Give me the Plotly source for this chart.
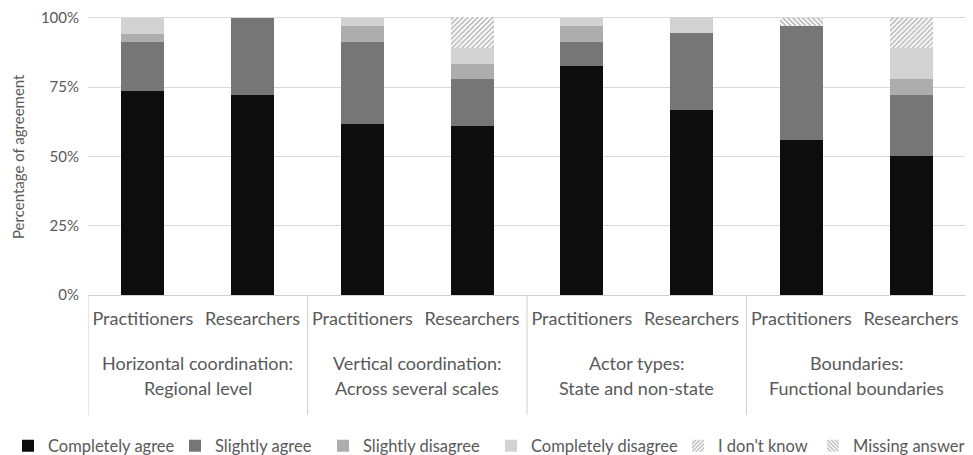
import plotly.graph_objects as go

groups = [
    "Horizontal coordination:<br>Regional level",
    "Vertical coordination:<br>Across several scales",
    "Actor types:<br>State and non-state",
    "Boundaries:<br>Functional boundaries",
]
respondents = ["Practitioners", "Researchers"]

completely_agree = [73.5, 72.2, 61.8, 61.1, 82.4, 66.7, 55.9, 50.0]
slightly_agree = [17.6, 27.8, 29.4, 16.7, 8.8, 27.8, 41.2, 22.2]
slightly_disagree = [2.9, 0, 5.9, 5.6, 5.9, 0, 0, 5.6]
completely_disagree = [5.9, 0, 2.9, 5.6, 2.9, 5.6, 0, 11.1]
dont_know = [0, 0, 0, 11.1, 0, 0, 0, 11.1]
missing_answer = [0, 0, 0, 0, 0, 0, 2.9, 0]

tick_vals = [0, 25, 50, 75, 100]
tick_text = ["0%", "25%", "50%", "75%", "100%"]

# unique category ids for each bar, labelled by respondent type
cats = [f"{g.split('<br>')[0]} {r}" for g in groups for r in respondents]
cat_labels = [r for _ in groups for r in respondents]

series = [
    ("Completely agree", completely_agree, "#0d0d0d", None, None),
    ("Slightly agree", slightly_agree, "#767676", None, None),
    ("Slightly disagree", slightly_disagree, "#adadad", None, None),
    ("Completely disagree", completely_disagree, "#d2d2d2", None, None),
    ("I don't know", dont_know, "white", "/", "#6e6e6e"),
    ("Missing answer", missing_answer, "white", "\\", "#6e6e6e"),
]

# legend text start positions (page pixels) for each entry
legend_text_x = [48, 215, 363, 531, 718, 853]

TXT = "#595959"
FONT = "Lato"

# the page body adds an 8 px offset; work in figure pixels
OFF = 8
W, HT = 973 - OFF, 455 - OFF
Y_MAX = 100.6
TOP100, B, L, R = 18 - OFF, 295 - OFF, 88 - OFF, 966 - OFF
T = round(B - (B - TOP100) * Y_MAX / 100)
H = B - T


def py(p):
    return (B - (p - OFF)) / H


def px(p):
    return ((p - OFF) - L) / (R - L)


fig = go.Figure()
for i, (name, vals, color, shape, fg) in enumerate(series):
    marker = dict(color=color, line=dict(width=0))
    if shape:
        marker["pattern"] = dict(shape=shape, fgcolor=fg, bgcolor="white", size=3.5, solidity=0.45)
    fig.add_trace(go.Bar(name=name, x=cats, y=vals, marker=marker,
                         legend="legend" if i == 0 else f"legend{i + 1}"))

n_per = len(respondents)
# group labels
for gi, g in enumerate(groups):
    center = gi * n_per + (n_per - 1) / 2
    for li, line in enumerate(g.split("<br>")):
        fig.add_annotation(
            x=center, xref="x", y=py(363 + 25 * li), yref="paper",
            text=line, showarrow=False, xanchor="center", yanchor="middle",
            font=dict(family=FONT, size=18, color=TXT),
        )

# dividers between groups
for gi in range(len(groups) + 1):
    xv = gi * n_per - 0.5
    fig.add_shape(
        type="line", xref="x", yref="paper", x0=xv, x1=xv, y0=0, y1=py(415),
        line=dict(color="#d0d0d0", width=1),
    )

# y-axis title
fig.add_annotation(
    x=px(18), xref="paper", y=py(157), yref="paper",
    text="Percentage of agreement", textangle=-90, showarrow=False,
    xanchor="center", yanchor="middle", font=dict(family=FONT, size=15, color=TXT),
)

legends = {}
for i, tx in enumerate(legend_text_x):
    key = "legend" if i == 0 else f"legend{i + 1}"
    legends[key] = dict(
        orientation="h",
        x=px(tx - 40),
        xanchor="left",
        y=py(446),
        yanchor="middle",
        font=dict(family=FONT, size=16.5, color=TXT),
        itemwidth=30,
        bgcolor="rgba(0,0,0,0)",
        borderwidth=0,
    )

fig.update_layout(
    barmode="stack",
    bargap=0.61,
    width=W,
    height=HT,
    margin=dict(l=L, r=W - R, t=T, b=HT - B, autoexpand=False),
    plot_bgcolor="white",
    paper_bgcolor="white",
    font=dict(family=FONT, size=17, color=TXT),
    showlegend=True,
    xaxis=dict(
        type="category",
        range=[-0.5, len(cats) - 0.5],
        tickvals=cats,
        ticktext=cat_labels,
        showline=True,
        linecolor="#d0d0d0",
        linewidth=1,
        showgrid=False,
        ticks="",
        ticklabelstandoff=7,
        tickfont=dict(family=FONT, size=18, color=TXT),
        automargin=False,
    ),
    yaxis=dict(
        range=[0, Y_MAX],
        tickvals=tick_vals,
        ticktext=tick_text,
        showgrid=True,
        gridcolor="#d9d9d9",
        gridwidth=1,
        zeroline=False,
        ticks="",
        ticklabelstandoff=8,
        ticklabeloverflow="allow",
        tickfont=dict(family=FONT, size=15, color=TXT),
        automargin=False,
    ),
    **legends,
)

fig.write_html("out.html")
